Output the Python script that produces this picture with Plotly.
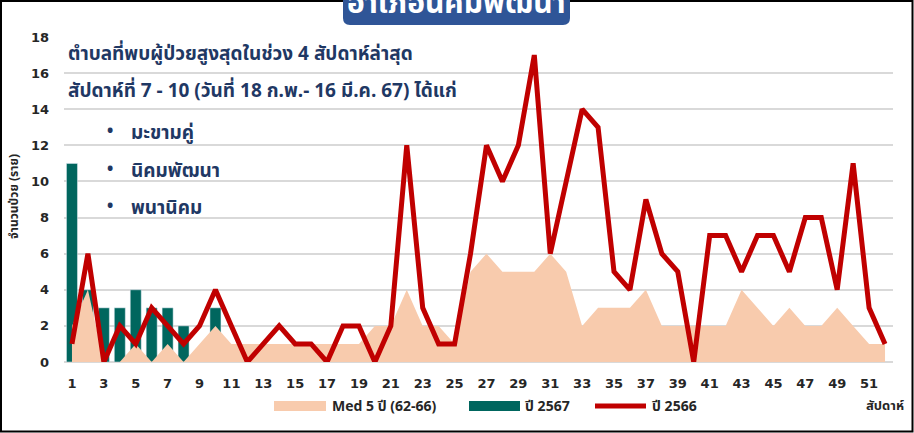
import plotly.graph_objects as go

weeks = list(range(1, 53))
med5 = [2, 4, 0, 0, 1, 0, 1, 0, 1, 2, 1, 1, 1, 1, 1, 1, 1, 1, 1, 2,
        2, 4, 2, 2, 1, 5, 6, 5, 5, 5, 6, 5, 2, 3, 3, 3, 4, 2, 2, 2,
        2, 2, 4, 3, 2, 3, 2, 2, 3, 2, 1, 1]
y2567 = [11, 4, 3, 3, 4, 3, 3, 2, 0, 3]
y2566 = [1, 6, 0, 2, 1, 3, 2, 1, 2, 4, 2, 0, 1, 2, 1, 1, 0, 2, 2, 0,
         2, 12, 3, 1, 1, 6, 12, 10, 12, 17, 6, 10, 14, 13, 5, 4, 9, 6, 5, 0,
         7, 7, 5, 7, 7, 5, 8, 8, 4, 11, 3, 1]
ytick_vals = list(range(0, 19, 2))
xtick_vals = list(range(1, 53, 2))

title_text = "อำเภอนิคมพัฒนา"
note_lines = ["ตำบลที่พบผู้ป่วยสูงสุดในช่วง 4 สัปดาห์ล่าสุด",
              "สัปดาห์ที่ 7 - 10 (วันที่ 18 ก.พ.- 16 มี.ค. 67) ได้แก่"]
tambons = ["มะขามคู่", "นิคมพัฒนา", "พนานิคม"]
legend_names = ["Med 5 ปี (62-66)", "ปี 2567", "ปี 2566"]

W, H = 914, 433
L, R, T, B = 64, 893, 37, 362
PEACH, TEAL, RED, NAVY = "#F8CBAD", "#00665E", "#C00000", "#1F3864"
FONT = "Tahoma, 'Noto Sans Thai', 'DejaVu Sans', sans-serif"
TXT = "#262626"


def px(x):
    return (x - L) / (R - L)


def py(y):
    return (B - y) / (B - T)


fig = go.Figure()
fig.add_trace(go.Scatter(x=weeks, y=med5, mode="lines", fill="tozeroy",
                         fillcolor=PEACH, line=dict(width=0, color=PEACH),
                         name=legend_names[0], showlegend=False, hoverinfo="skip"))
fig.add_trace(go.Bar(x=weeks[:len(y2567)], y=y2567, marker_color=TEAL,
                     name=legend_names[1], showlegend=False))
fig.add_trace(go.Scatter(x=weeks, y=y2566, mode="lines",
                         line=dict(color=RED, width=5), name=legend_names[2],
                         showlegend=False))

shapes = []
ann = []
# outer frame
shapes.append(dict(type="rect", xref="paper", yref="paper",
                   x0=px(1), x1=px(W - 1.5), y0=py(H - 1.5), y1=py(1),
                   line=dict(color="black", width=2), layer="below"))
# title box with rounded bottom corners
bx0, bx1, by0, by1, r = 343, 570, -2, 25, 7
path = (f"M {px(bx0)},{py(by0)} L {px(bx0)},{py(by1 - r)} "
        f"Q {px(bx0)},{py(by1)} {px(bx0 + r)},{py(by1)} "
        f"L {px(bx1 - r)},{py(by1)} Q {px(bx1)},{py(by1)} {px(bx1)},{py(by1 - r)} "
        f"L {px(bx1)},{py(by0)} Z")
shapes.append(dict(type="path", xref="paper", yref="paper", path=path,
                   fillcolor="#2F5597", line=dict(width=0), layer="above"))
ann.append(dict(xref="paper", yref="paper", x=px(456), y=py(4), text=title_text,
                showarrow=False, xanchor="center", yanchor="middle",
                font=dict(family=FONT, size=30, color="white", weight="bold")))

# notes
note_font = dict(family=FONT, size=19, color=NAVY, weight="bold")
ann.append(dict(xref="paper", yref="paper", x=px(66), y=py(55), text=note_lines[0],
                showarrow=False, xanchor="left", yanchor="middle", font=note_font))
ann.append(dict(xref="paper", yref="paper", x=px(66), y=py(92), text=note_lines[1],
                showarrow=False, xanchor="left", yanchor="middle", font=note_font))
for i, t in enumerate(tambons):
    yy = 133 + i * 38
    ann.append(dict(xref="paper", yref="paper", x=px(110), y=py(yy - 2), text="•",
                    showarrow=False, xanchor="center", yanchor="middle",
                    font=dict(family=FONT, size=22, color=NAVY)))
    ann.append(dict(xref="paper", yref="paper", x=px(129), y=py(yy), text=t,
                    showarrow=False, xanchor="left", yanchor="middle", font=note_font))

# y-axis title
ann.append(dict(xref="paper", yref="paper", x=px(14), y=py(197),
                text="จำนวนป่วย (ราย)", textangle=-90, showarrow=False,
                xanchor="center", yanchor="middle",
                font=dict(family=FONT, size=12, color=TXT, weight="bold")))
# x-axis title
ann.append(dict(xref="paper", yref="paper", x=px(906), y=py(406),
                text="สัปดาห์", showarrow=False, xanchor="right", yanchor="middle",
                font=dict(family=FONT, size=13, color=TXT, weight="bold")))

# legend (manual)
LY = 406
leg_font = dict(family=FONT, size=14, color=TXT, weight="bold")
shapes.append(dict(type="rect", xref="paper", yref="paper", x0=px(274), x1=px(326),
                   y0=py(LY + 5), y1=py(LY - 5), fillcolor=PEACH, line=dict(width=0)))
ann.append(dict(xref="paper", yref="paper", x=px(330), y=py(LY), text=legend_names[0],
                showarrow=False, xanchor="left", yanchor="middle", font=leg_font))
shapes.append(dict(type="rect", xref="paper", yref="paper", x0=px(469), x1=px(520),
                   y0=py(LY + 5), y1=py(LY - 5), fillcolor=TEAL, line=dict(width=0)))
ann.append(dict(xref="paper", yref="paper", x=px(523), y=py(LY), text=legend_names[1],
                showarrow=False, xanchor="left", yanchor="middle", font=leg_font))
shapes.append(dict(type="line", xref="paper", yref="paper", x0=px(595), x1=px(646),
                   y0=py(LY), y1=py(LY), line=dict(color=RED, width=5)))
ann.append(dict(xref="paper", yref="paper", x=px(650), y=py(LY), text=legend_names[2],
                showarrow=False, xanchor="left", yanchor="middle", font=leg_font))

tickfont = dict(family="'DejaVu Sans', sans-serif", size=13, color=TXT, weight="bold")
fig.update_layout(
    width=W, height=H,
    margin=dict(l=L, r=W - R, t=T, b=H - B, pad=0),
    paper_bgcolor="white", plot_bgcolor="white",
    bargap=0.31, showlegend=False,
    shapes=shapes, annotations=ann,
    xaxis=dict(range=[0.5, 52.5], tickvals=xtick_vals, showgrid=False,
               zeroline=False, showline=False, ticks="",
               ticklabelstandoff=12, tickfont=tickfont),
    yaxis=dict(range=[0, 18], tickvals=ytick_vals, showgrid=True,
               gridcolor="#D9D9D9", gridwidth=2, zeroline=True,
               zerolinecolor="#D9D9D9", zerolinewidth=2, showline=False,
               ticks="", ticklabelstandoff=14, tickfont=tickfont),
)

fig.write_html("out.html", config={"displayModeBar": False},
               post_script="document.body.style.margin='0';document.body.style.overflow='hidden';")
